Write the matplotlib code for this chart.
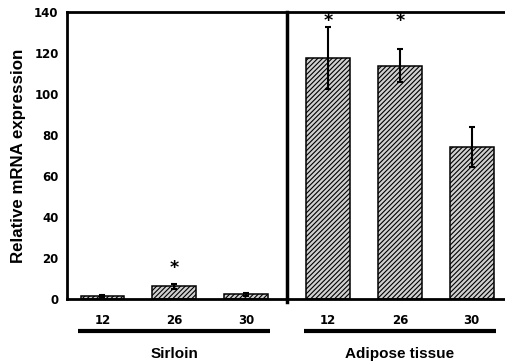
import numpy as np
import matplotlib.pyplot as plt
import matplotlib.transforms as mtransforms

# dados
grupos = ["Sirloin", "Adipose tissue"]
idades = ["12", "26", "30"]
sirloin = [1.5, 6.3, 2.2]
sirloin_err = [0.4, 1.2, 0.6]
adiposo = [117.4, 113.8, 74.0]
adiposo_err = [15.2, 8.0, 9.7]
# barras com asterisco e altura do asterisco
estrela_idx = [1, 3, 4]
estrela_y = [15.0, 135.5, 135.5]

valores = sirloin + adiposo
erros = sirloin_err + adiposo_err
pos = np.array([0, 1, 2, 3.146, 4.146, 5.146])
largura = 0.61

plt.rcParams['font.family'] = ['DejaVu Sans']
plt.rcParams['hatch.linewidth'] = 0.8

fig = plt.figure(figsize=(5.05, 3.64), dpi=100)
ax = fig.add_axes([0.1327, 0.1786, 0.8673, 0.7884])

ax.bar(pos, valores, width=largura, color='#d0d0d0', edgecolor='black',
       linewidth=1.1, hatch='///////', zorder=2)
ax.errorbar(pos, valores, yerr=erros, fmt='none', ecolor='black',
            elinewidth=1.5, capsize=2.5, capthick=1.5, zorder=3)

for i, y in zip(estrela_idx, estrela_y):
    ax.text(pos[i], y, "*", ha='center', va='center', fontsize=12.5,
            fontweight='bold')

ax.set_ylim(0, 140)
ax.set_xlim(-0.493, 5.61)
ax.set_yticks(range(0, 141, 20))
ax.set_xticks(pos)
ax.set_xticklabels(idades * 2)
ax.tick_params(axis='both', length=0, labelsize=8.5)
ax.tick_params(axis='x', pad=11)
ax.tick_params(axis='y', pad=6)
for lab in ax.get_xticklabels() + ax.get_yticklabels():
    lab.set_fontweight('bold')

ax.set_ylabel("Relative mRNA expression", fontsize=12.2, fontweight='bold',
              labelpad=6, family=['Liberation Sans', 'DejaVu Sans'])

ax.spines['right'].set_visible(False)
for lado in ['left', 'top', 'bottom']:
    ax.spines[lado].set_linewidth(2)

# divisória entre tecidos
ax.axvline((pos[2] + pos[3]) / 2, ymin=-0.012, ymax=1, color='black',
           linewidth=2.5, clip_on=False)

trans = mtransforms.blended_transform_factory(ax.transData, ax.transAxes)
for g, nome in enumerate(grupos):
    x0 = pos[3 * g] - largura / 2 - 0.03
    x1 = pos[3 * g + 2] + largura / 2 + 0.03
    ax.plot([x0, x1], [-0.113, -0.113], color='black', linewidth=3,
            transform=trans, clip_on=False, solid_capstyle='butt')
    ax.text(pos[3 * g + 1], -0.19, nome, transform=trans, ha='center',
            va='center', fontsize=11, fontweight='bold',
            family=['Liberation Sans', 'DejaVu Sans'])

fig.savefig("out.png", dpi=100)
